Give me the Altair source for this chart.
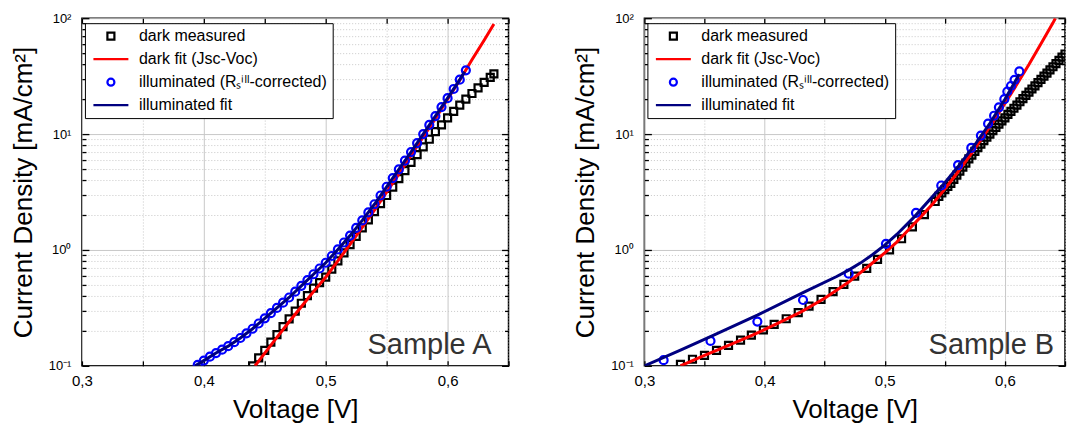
import altair as alt
import pandas as pd

FONT = "Liberation Sans"

# ---------------- legend / style lists ----------------
LEG = ["dark measured", "dark fit (Jsc-Voc)", "illuminated (Rₛⁱˡˡ-corrected)", "illuminated fit"]
LEG_COLORS = ["#000000", "#ff0000", "#0000ff", "#000080"]
LINE_SYM = "M-5,0L5,0"
LEG_SHAPES = ["square", LINE_SYM, "circle", LINE_SYM]

X_TICKS = [0.3, 0.35, 0.4, 0.45, 0.5, 0.55, 0.6, 0.65]
Y_TICKS = [0.1, 0.2, 0.3, 0.4, 0.5, 0.6, 0.7, 0.8, 0.9,
           1, 2, 3, 4, 5, 6, 7, 8, 9,
           10, 20, 30, 40, 50, 60, 70, 80, 90, 100]

# ---------------- Sample A ----------------
A_DARK_V = [0.440, 0.445, 0.450, 0.455, 0.460, 0.465, 0.470, 0.475, 0.480, 0.485,
            0.490, 0.495, 0.500, 0.505, 0.510, 0.515, 0.520, 0.525, 0.530, 0.535,
            0.540, 0.545, 0.550, 0.555, 0.560, 0.565, 0.570, 0.575, 0.580, 0.585,
            0.590, 0.595, 0.600, 0.605, 0.610, 0.615, 0.620, 0.625, 0.630, 0.635, 0.638]
A_DARK_J = [0.100, 0.117, 0.136, 0.160, 0.186, 0.218, 0.254, 0.297, 0.347, 0.403,
            0.468, 0.522, 0.582, 0.684, 0.804, 0.944, 1.11, 1.31, 1.55, 1.82,
            2.14, 2.51, 2.95, 3.48, 4.12, 4.84, 5.69, 6.64, 7.76, 9.02,
            10.5, 12.0, 13.8, 15.7, 17.8, 20.0, 22.4, 25.0, 27.9, 30.9, 33.1]

A_FITD_V = [0.442, 0.45, 0.46, 0.47, 0.48, 0.49, 0.50, 0.51, 0.52, 0.53, 0.54,
            0.55, 0.56, 0.57, 0.58, 0.59, 0.60, 0.61, 0.62, 0.63, 0.638]
A_FITD_J = [0.100, 0.129, 0.176, 0.240, 0.324, 0.437, 0.582, 0.804, 1.12, 1.57, 2.21,
            3.16, 4.52, 6.53, 9.44, 13.6, 20.0, 29.2, 43.7, 64.6, 89.1]

A_ILL_V = [0.395, 0.400, 0.405, 0.410, 0.415, 0.420, 0.425, 0.430, 0.435, 0.440,
           0.445, 0.450, 0.455, 0.460, 0.465, 0.470, 0.475, 0.480, 0.485, 0.490,
           0.495, 0.500, 0.505, 0.510, 0.515, 0.520, 0.525, 0.530, 0.535, 0.540,
           0.545, 0.550, 0.555, 0.560, 0.565, 0.570, 0.575, 0.580, 0.585, 0.590,
           0.595, 0.600, 0.605, 0.610, 0.615]
A_ILL_J = [0.102, 0.111, 0.120, 0.129, 0.138, 0.148, 0.160, 0.174, 0.191, 0.209,
           0.232, 0.257, 0.285, 0.316, 0.351, 0.389, 0.437, 0.490, 0.550, 0.617,
           0.692, 0.776, 0.887, 1.01, 1.16, 1.33, 1.55, 1.80, 2.11, 2.48,
           2.95, 3.51, 4.17, 4.95, 5.89, 7.00, 8.36, 10.0, 12.0, 14.3,
           17.1, 20.4, 24.5, 29.5, 35.5]

A_FITI_V = [0.393, 0.40, 0.41, 0.42, 0.43, 0.44, 0.45, 0.46, 0.47, 0.48, 0.49, 0.50,
            0.51, 0.52, 0.53, 0.54, 0.55, 0.56, 0.57, 0.58, 0.59, 0.60, 0.61, 0.614]
A_FITI_J = [0.100, 0.111, 0.129, 0.148, 0.174, 0.209, 0.257, 0.316, 0.389, 0.490, 0.617, 0.776,
            1.01, 1.33, 1.80, 2.48, 3.51, 4.95, 7.00, 10.0, 14.3, 20.4, 29.5, 34.5]

# ---------------- Sample B ----------------
B_DARK_V = [0.330, 0.340, 0.350, 0.360, 0.370, 0.380, 0.389, 0.399, 0.408, 0.418,
            0.428, 0.437, 0.447, 0.457, 0.466, 0.475, 0.485, 0.494, 0.504, 0.514,
            0.523, 0.533, 0.542,
            0.5450, 0.5475, 0.5500, 0.5525, 0.5550, 0.5575, 0.5600, 0.5625, 0.5650, 0.5675,
            0.5700, 0.5725, 0.5750, 0.5775, 0.5800, 0.5825, 0.5850, 0.5875, 0.5900, 0.5925,
            0.5950, 0.5975, 0.6000, 0.6025, 0.6050, 0.6075, 0.6100, 0.6125, 0.6150, 0.6175,
            0.6200, 0.6225, 0.6250, 0.6275, 0.6300, 0.6325, 0.6350, 0.6375, 0.6400, 0.6425,
            0.6450, 0.6475, 0.6500]
B_DARK_J = [0.103, 0.114, 0.123, 0.136, 0.150, 0.167, 0.184, 0.204, 0.228, 0.255,
            0.288, 0.328, 0.375, 0.437, 0.505, 0.594, 0.693, 0.830, 1.00, 1.25,
            1.58, 2.02, 2.62,
            2.90, 3.10, 3.31, 3.53, 3.76, 4.07, 4.42, 4.79, 5.19, 5.62,
            6.10, 6.58, 7.10, 7.64, 8.20, 8.79, 9.40, 10.0, 10.7, 11.4,
            12.2, 13.0, 13.8, 14.8, 15.7, 16.7, 17.8, 19.0, 20.2, 21.6,
            23.0, 24.5, 26.1, 27.8, 29.6, 31.6, 33.6, 35.8, 38.1, 40.6,
            43.3, 46.1, 49.1]

B_FITD_V = [0.330, 0.350, 0.370, 0.390, 0.410, 0.430, 0.450, 0.470, 0.490, 0.500,
            0.510, 0.520, 0.530, 0.540, 0.550, 0.560, 0.570, 0.580, 0.590, 0.600,
            0.610, 0.620, 0.630, 0.640, 0.642]
B_FITD_J = [0.100, 0.123, 0.150, 0.184, 0.230, 0.291, 0.383, 0.528, 0.776, 0.944,
            1.17, 1.50, 1.93, 2.51, 3.35, 4.57, 6.31, 8.91, 12.7, 18.4,
            26.9, 39.8, 60.3, 91.2, 100.0]

B_ILL_V = [0.316, 0.355, 0.394, 0.432, 0.470, 0.501, 0.526, 0.547, 0.561, 0.572,
           0.580, 0.586, 0.591, 0.595, 0.5995, 0.602, 0.605, 0.608, 0.612]
B_ILL_J = [0.112, 0.164, 0.241, 0.370, 0.624, 1.13, 2.09, 3.60, 5.40, 7.60,
           9.70, 12.3, 14.4, 17.0, 20.0, 23.3, 26.0, 29.4, 34.7]

B_FITI_V = [0.300, 0.330, 0.355, 0.394, 0.432, 0.460, 0.470, 0.480, 0.490, 0.500,
            0.510, 0.525, 0.550, 0.5625, 0.575, 0.5875, 0.600, 0.612]
B_FITI_J = [0.100, 0.137, 0.179, 0.274, 0.428, 0.590, 0.670, 0.774, 0.914, 1.10,
            1.36, 1.95, 3.80, 5.47, 8.09, 12.4, 20.0, 32.8]

# ---------------- helpers ----------------
W_A, W_B, H = 427, 421, 348
XMAJ = "abs(datum.value*10 - round(datum.value*10)) < 0.001"
LG = "(log(datum.value)/LN10)"
YDEC = f"abs({LG} - round({LG})) < 0.001"
YLAB = (f"{YDEC} ? (round({LG}) == 2 ? '10²' : round({LG}) == 1 ? '10¹' : "
        f"round({LG}) == 0 ? '10⁰' : '10⁻¹') : ''")
XLAB = f"{XMAJ} ? replace(format(datum.value, '.1f'), '.', ',') : ''"

xs = alt.Scale(domain=[0.3, 0.65], nice=False, zero=False)
ys = alt.Scale(type="log", domain=[0.1, 100], nice=False)

x_main = alt.Axis(orient="bottom", values=X_TICKS, title="Voltage [V]", labelExpr=XLAB,
                  labelFlush=False, labelOverlap=False, grid=True, gridColor="#c8c8c8",
                  gridWidth=1, gridDash={"condition": {"test": XMAJ, "value": []}, "value": [1, 2]},
                  domain=False, tickColor="black", tickWidth=1.3, tickSize={"expr": "-5"},
                  labelPadding=13, labelFont=FONT, labelFontSize=15, labelColor="black",
                  titleFont=FONT, titleFontSize=26, titleFontWeight="normal", titleColor="black",
                  titlePadding=8)
y_main = alt.Axis(orient="left", values=Y_TICKS, title="Current Density [mA/cm²]", labelExpr=YLAB,
                  labelFlush=False, labelOverlap=False, grid=True, gridColor="#c8c8c8",
                  gridWidth=1, gridDash={"condition": {"test": YDEC, "value": []}, "value": [1, 2]},
                  domain=False, tickColor="black", tickWidth=1.3,
                  tickSize={"condition": {"test": YDEC, "value": -7}, "value": -4},
                  labelPadding=18, labelFont=FONT, labelFontSize=13, labelColor="black",
                  titleFont=FONT, titleFontSize=26, titleFontWeight="normal", titleColor="black",
                  titlePadding=12)
x_mirror = alt.Axis(orient="top", values=X_TICKS, labels=False, title=None, grid=False,
                    domain=False, tickColor="black", tickWidth=1.3, tickSize={"expr": "-5"})
y_mirror = alt.Axis(orient="right", values=Y_TICKS, labels=False, title=None, grid=False,
                    domain=False, tickColor="black", tickWidth=1.3,
                    tickSize={"condition": {"test": YDEC, "value": -7}, "value": -4})

legend = alt.Legend(title=None, orient="none", legendX=3, legendY=5, padding=5,
                    strokeColor="black", fillColor="white", labelFont=FONT, labelFontSize=16,
                    labelColor="black", symbolSize=49, symbolStrokeWidth=2.2, symbolOffset=13,
                    symbolOpacity=1, labelOffset=20, rowPadding=7, labelLimit=400)

color_enc = alt.Color("series:N", scale=alt.Scale(domain=LEG, range=LEG_COLORS), legend=legend)
shape_enc = alt.Shape("series:N", scale=alt.Scale(domain=LEG, range=LEG_SHAPES), legend=legend)


def frame(v, j, name):
    return pd.DataFrame({"V": v, "J": j, "series": name})


def panel(dv, dj, fdv, fdj, iv, ij, fiv, fij, label, label_v, width):
    dark = alt.Chart(frame(dv, dj, LEG[0])).mark_point(
        filled=False, size=49, strokeWidth=2.2, opacity=1, clip=True).encode(
        x=alt.X("V:Q", scale=xs, axis=x_main),
        y=alt.Y("J:Q", scale=ys, axis=y_main),
        color=color_enc, shape=shape_enc)
    fitd = alt.Chart(frame(fdv, fdj, LEG[1])).mark_line(
        color="#ff0000", strokeWidth=3, clip=True).encode(
        x=alt.X("V:Q", scale=xs, axis=x_mirror),
        y=alt.Y("J:Q", scale=ys, axis=y_mirror))
    ill = alt.Chart(frame(iv, ij, LEG[2])).mark_point(
        filled=False, size=64, strokeWidth=2.2, opacity=1, clip=True).encode(
        x=alt.X("V:Q", scale=xs, axis=None),
        y=alt.Y("J:Q", scale=ys, axis=None),
        color=color_enc, shape=shape_enc)
    fiti = alt.Chart(frame(fiv, fij, LEG[3])).mark_line(
        color="#000080", strokeWidth=3, clip=True).encode(
        x=alt.X("V:Q", scale=xs, axis=None),
        y=alt.Y("J:Q", scale=ys, axis=None))
    txt = alt.Chart(pd.DataFrame({"V": [label_v], "J": [0.126], "t": [label]})).mark_text(
        align="right", baseline="alphabetic", font=FONT, fontSize=29, color="#333333").encode(
        x=alt.X("V:Q", scale=xs, axis=None),
        y=alt.Y("J:Q", scale=ys, axis=None),
        text="t:N")
    return alt.layer(dark, fitd, ill, fiti, txt).resolve_axis(
        x="independent", y="independent").properties(width=width, height=H)


pa = panel(A_DARK_V, A_DARK_J, A_FITD_V, A_FITD_J, A_ILL_V, A_ILL_J, A_FITI_V, A_FITI_J,
           "Sample A", 0.636, W_A)
pb = panel(B_DARK_V, B_DARK_J, B_FITD_V, B_FITD_J, B_ILL_V, B_ILL_J, B_FITI_V, B_FITI_J,
           "Sample B", 0.641, W_B)

chart = alt.hconcat(pa, pb, spacing=61).resolve_scale(
    color="independent", shape="independent").resolve_legend(
    color="independent", shape="independent").properties(
    padding={"left": 1, "top": 3, "right": 0, "bottom": 0},
    background="white").configure_view(stroke="black", strokeWidth=1.5)

chart.save("out.html", embed_options={"renderer": "svg", "actions": False})
